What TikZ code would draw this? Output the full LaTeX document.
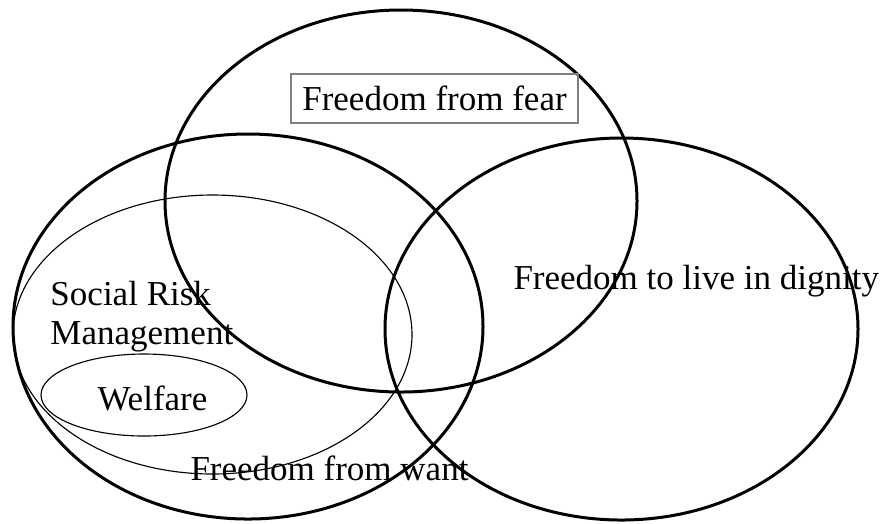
\documentclass[tikz,border=0pt]{standalone}
\usepackage{fontspec}
\setmainfont{Liberation Serif}
\usetikzlibrary{shapes.geometric}
\begin{document}
\begin{tikzpicture}[x=0.4pt,y=-0.4pt,
  big/.style={draw, line width=1.2pt, ellipse, inner sep=0pt},
  small/.style={draw, line width=0.45pt, ellipse, inner sep=0pt},
  lbl/.style={font=\fontsize{14}{17}\selectfont, inner sep=0pt, anchor=base west}]
\useasboundingbox (0,0) rectangle (886,523);
\node[big, minimum width=188.8pt, minimum height=152.8pt] (fearE) at (401,201) {};
\node[big, minimum width=188pt, minimum height=154pt] (wantE) at (248,326.5) {};
\node[big, minimum width=189.2pt, minimum height=152.8pt] (dignE) at (621.5,329) {};
\node[small, minimum width=159.6pt, minimum height=111.6pt] (srmE) at (212.5,334.5) {};
\node[small, minimum width=82.4pt, minimum height=32.8pt] (welfE) at (144,395) {};
\node[draw=gray, line width=0.45pt, font=\fontsize{14}{17}\selectfont, minimum width=114.8pt, minimum height=19.6pt, inner sep=0pt] (fear) at (434.5,98.5) {Freedom from fear};
\node[lbl] (srm1) at (50,305) {Social Risk};
\node[lbl] (srm2) at (50,344) {Management};
\node[lbl] (welf) at (97,410) {Welfare};
\node[lbl] (want) at (190,480) {Freedom from want};
\node[lbl] (dign) at (513,289) {Freedom to live in dignity};
\end{tikzpicture}
\end{document}
